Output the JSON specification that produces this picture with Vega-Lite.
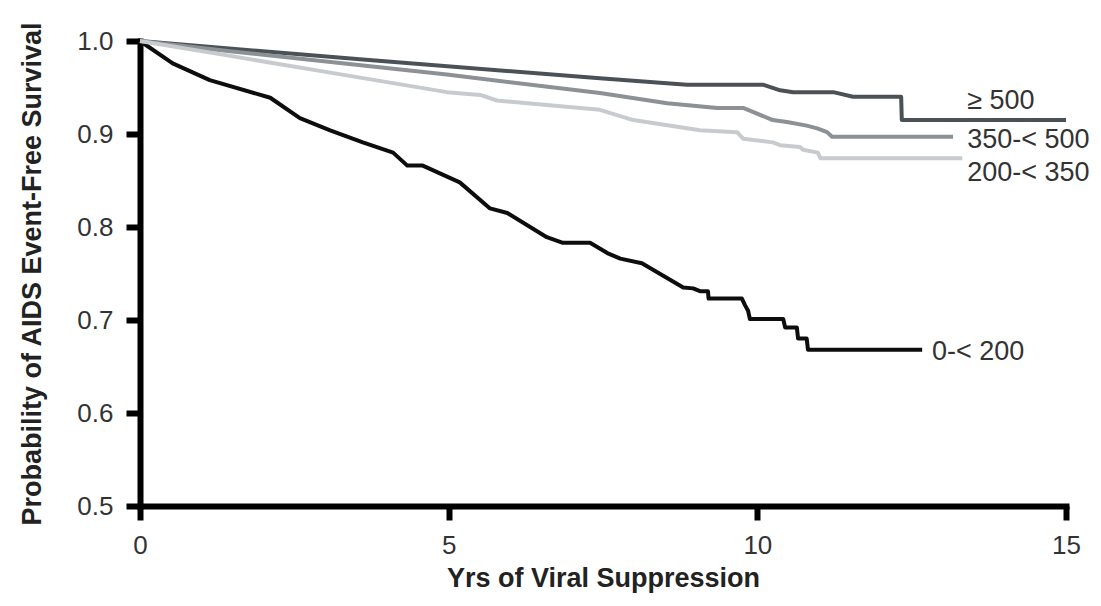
{
  "$schema": "https://vega.github.io/schema/vega-lite/v6.json",
  "width": 926,
  "height": 465,
  "autosize": {"type": "none"},
  "padding": {"left": 140, "top": 41, "right": 35, "bottom": 100},
  "background": "white",
  "config": {
    "view": {"stroke": null},
    "font": "Liberation Sans",
    "axis": {
      "grid": false,
      "domainColor": "black",
      "domainWidth": 6,
      "domainCap": "square",
      "tickColor": "black",
      "tickWidth": 6,
      "tickSize": 14,
      "labelFont": "Liberation Sans",
      "labelFontSize": 26,
      "labelColor": "#333333",
      "titleFont": "Liberation Sans",
      "titleFontSize": 27,
      "titleFontWeight": "bold",
      "titleColor": "#222222"
    }
  },
  "datasets": {
    "curves": [
      {"group": "0-< 200", "year": 0, "prob": 1.0},
      {"group": "0-< 200", "year": 0.53, "prob": 0.976},
      {"group": "0-< 200", "year": 1.13, "prob": 0.958},
      {"group": "0-< 200", "year": 2.11, "prob": 0.939},
      {"group": "0-< 200", "year": 2.59, "prob": 0.917},
      {"group": "0-< 200", "year": 3.08, "prob": 0.904},
      {"group": "0-< 200", "year": 3.61, "prob": 0.891},
      {"group": "0-< 200", "year": 4.10, "prob": 0.880},
      {"group": "0-< 200", "year": 4.33, "prob": 0.866},
      {"group": "0-< 200", "year": 4.58, "prob": 0.866},
      {"group": "0-< 200", "year": 5.18, "prob": 0.848},
      {"group": "0-< 200", "year": 5.67, "prob": 0.820},
      {"group": "0-< 200", "year": 5.95, "prob": 0.815},
      {"group": "0-< 200", "year": 6.59, "prob": 0.789},
      {"group": "0-< 200", "year": 6.85, "prob": 0.783},
      {"group": "0-< 200", "year": 7.29, "prob": 0.783},
      {"group": "0-< 200", "year": 7.57, "prob": 0.772},
      {"group": "0-< 200", "year": 7.78, "prob": 0.766},
      {"group": "0-< 200", "year": 8.13, "prob": 0.761},
      {"group": "0-< 200", "year": 8.80, "prob": 0.735},
      {"group": "0-< 200", "year": 8.96, "prob": 0.734},
      {"group": "0-< 200", "year": 9.07, "prob": 0.731},
      {"group": "0-< 200", "year": 9.20, "prob": 0.731},
      {"group": "0-< 200", "year": 9.21, "prob": 0.723},
      {"group": "0-< 200", "year": 9.75, "prob": 0.723},
      {"group": "0-< 200", "year": 9.80, "prob": 0.716},
      {"group": "0-< 200", "year": 9.85, "prob": 0.710},
      {"group": "0-< 200", "year": 9.88, "prob": 0.701},
      {"group": "0-< 200", "year": 10.42, "prob": 0.701},
      {"group": "0-< 200", "year": 10.45, "prob": 0.692},
      {"group": "0-< 200", "year": 10.64, "prob": 0.692},
      {"group": "0-< 200", "year": 10.66, "prob": 0.680},
      {"group": "0-< 200", "year": 10.80, "prob": 0.680},
      {"group": "0-< 200", "year": 10.82, "prob": 0.668},
      {"group": "0-< 200", "year": 12.67, "prob": 0.668},

      {"group": "≥ 500", "year": 0, "prob": 1.0},
      {"group": "≥ 500", "year": 3.61, "prob": 0.980},
      {"group": "≥ 500", "year": 7.45, "prob": 0.960},
      {"group": "≥ 500", "year": 8.86, "prob": 0.953},
      {"group": "≥ 500", "year": 10.09, "prob": 0.953},
      {"group": "≥ 500", "year": 10.37, "prob": 0.947},
      {"group": "≥ 500", "year": 10.58, "prob": 0.945},
      {"group": "≥ 500", "year": 11.23, "prob": 0.945},
      {"group": "≥ 500", "year": 11.55, "prob": 0.940},
      {"group": "≥ 500", "year": 12.33, "prob": 0.940},
      {"group": "≥ 500", "year": 12.34, "prob": 0.915},
      {"group": "≥ 500", "year": 15.0, "prob": 0.915},

      {"group": "350-< 500", "year": 0, "prob": 1.0},
      {"group": "350-< 500", "year": 1.46, "prob": 0.989},
      {"group": "350-< 500", "year": 4.97, "prob": 0.964},
      {"group": "350-< 500", "year": 7.45, "prob": 0.944},
      {"group": "350-< 500", "year": 8.54, "prob": 0.933},
      {"group": "350-< 500", "year": 9.35, "prob": 0.928},
      {"group": "350-< 500", "year": 9.77, "prob": 0.928},
      {"group": "350-< 500", "year": 10.25, "prob": 0.915},
      {"group": "350-< 500", "year": 10.48, "prob": 0.913},
      {"group": "350-< 500", "year": 10.80, "prob": 0.909},
      {"group": "350-< 500", "year": 10.97, "prob": 0.906},
      {"group": "350-< 500", "year": 11.13, "prob": 0.902},
      {"group": "350-< 500", "year": 11.21, "prob": 0.897},
      {"group": "350-< 500", "year": 13.17, "prob": 0.897},

      {"group": "200-< 350", "year": 0, "prob": 1.0},
      {"group": "200-< 350", "year": 1.46, "prob": 0.984},
      {"group": "200-< 350", "year": 3.08, "prob": 0.966},
      {"group": "200-< 350", "year": 4.97, "prob": 0.945},
      {"group": "200-< 350", "year": 5.51, "prob": 0.942},
      {"group": "200-< 350", "year": 5.78, "prob": 0.936},
      {"group": "200-< 350", "year": 7.45, "prob": 0.926},
      {"group": "200-< 350", "year": 7.99, "prob": 0.915},
      {"group": "200-< 350", "year": 9.07, "prob": 0.904},
      {"group": "200-< 350", "year": 9.67, "prob": 0.902},
      {"group": "200-< 350", "year": 9.77, "prob": 0.895},
      {"group": "200-< 350", "year": 10.25, "prob": 0.891},
      {"group": "200-< 350", "year": 10.37, "prob": 0.888},
      {"group": "200-< 350", "year": 10.69, "prob": 0.886},
      {"group": "200-< 350", "year": 10.74, "prob": 0.883},
      {"group": "200-< 350", "year": 10.98, "prob": 0.880},
      {"group": "200-< 350", "year": 11.02, "prob": 0.874},
      {"group": "200-< 350", "year": 13.32, "prob": 0.874}
    ],
    "labels": [
      {"label": "≥ 500", "year": 13.4, "prob": 0.927},
      {"label": "350-< 500", "year": 13.4, "prob": 0.885},
      {"label": "200-< 350", "year": 13.4, "prob": 0.8495},
      {"label": "0-< 200", "year": 12.83, "prob": 0.657}
    ]
  },
  "layer": [
    {
      "data": {"name": "curves"},
      "mark": {"type": "line", "strokeWidth": 4, "strokeJoin": "round"},
      "encoding": {
        "x": {
          "field": "year",
          "type": "quantitative",
          "scale": {"domain": [0, 15], "nice": false, "zero": false},
          "axis": {
            "values": [0, 5, 10, 15],
            "format": "d",
            "labelFlush": false,
            "labelPadding": 12,
            "title": "Yrs of Viral Suppression",
            "titleX": 463,
            "titleY": 80,
            "titleBaseline": "alphabetic",
            "titleAlign": "center"
          }
        },
        "y": {
          "field": "prob",
          "type": "quantitative",
          "scale": {"domain": [0.5, 1.0], "nice": false, "zero": false},
          "axis": {
            "values": [0.5, 0.6, 0.7, 0.8, 0.9, 1.0],
            "format": ".1f",
            "labelPadding": 13,
            "title": "Probability of AIDS Event-Free Survival",
            "titleX": -100,
            "titleY": 232.5,
            "titleAngle": -90,
            "titleBaseline": "alphabetic",
            "titleAlign": "center"
          }
        },
        "color": {
          "field": "group",
          "type": "nominal",
          "scale": {
            "domain": ["200-< 350", "350-< 500", "≥ 500", "0-< 200"],
            "range": ["#c8cbcd", "#8b9195", "#4a5257", "#0d0d0d"]
          },
          "legend": null
        },
        "order": {"field": "year", "type": "quantitative"}
      }
    },
    {
      "data": {"name": "labels"},
      "mark": {
        "type": "text",
        "align": "left",
        "baseline": "alphabetic",
        "fontSize": 27,
        "font": "Liberation Sans",
        "color": "#333333"
      },
      "encoding": {
        "x": {"field": "year", "type": "quantitative"},
        "y": {"field": "prob", "type": "quantitative"},
        "text": {"field": "label", "type": "nominal"}
      }
    }
  ]
}
